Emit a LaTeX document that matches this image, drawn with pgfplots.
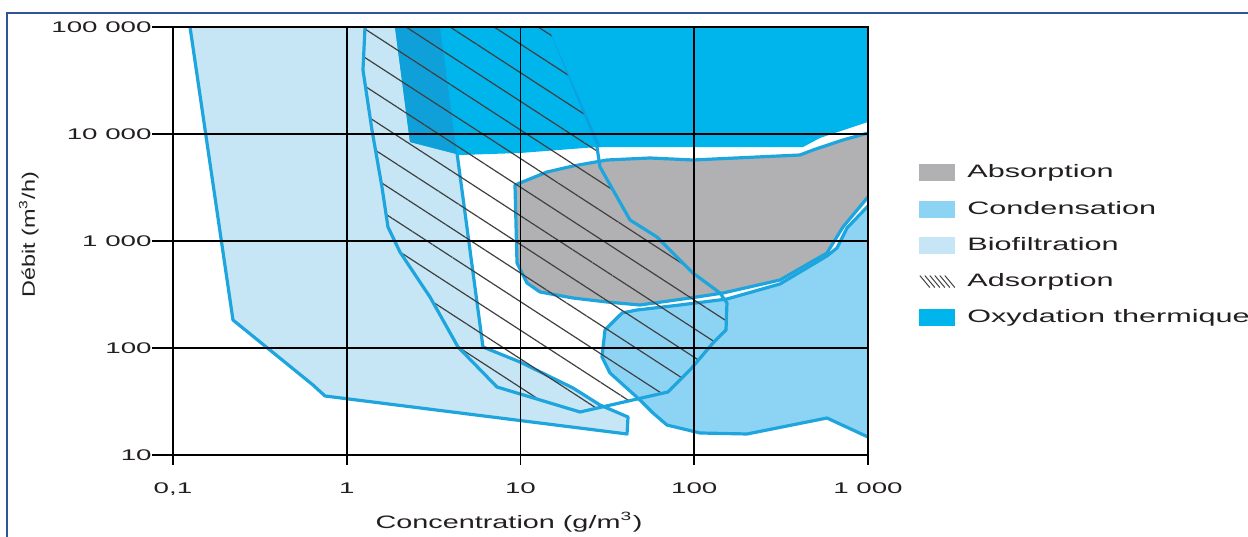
\documentclass[border=0pt]{standalone}
\usepackage{fontspec}
\setmainfont{Liberation Sans}
\usepackage{graphicx}
\usepackage{pgfplots}
\pgfplotsset{compat=1.18}
\usetikzlibrary{patterns.meta}
\definecolor{bio}{HTML}{C6E6F6}
\definecolor{cond}{HTML}{8DD4F4}
\definecolor{absg}{HTML}{B1B1B3}
\definecolor{oxy}{HTML}{00B4EC}
\definecolor{oxyd}{HTML}{0FA0DA}
\definecolor{edge}{HTML}{1EA5DE}
\definecolor{frm}{HTML}{2E5597}
\definecolor{txt}{HTML}{231F20}
\newcommand{\tx}[1]{\scalebox{1.8}[1]{#1}}
\newcommand{\lx}[1]{\scalebox{1.7}[1]{#1}}
\begin{document}
\begin{tikzpicture}
\path[use as bounding box] (0,0) rectangle (624pt,268pt);
\draw[frm, line width=1pt] (3.5pt,-5pt) -- (3.5pt,261.5pt) -- (630pt,261.5pt);
\begin{axis}[
  at={(86.5pt,40.5pt)}, anchor=south west,
  scale only axis, width=347.5pt, height=214pt,
  xmode=log, ymode=log,
  xmin=0.1, xmax=1000, ymin=10, ymax=100000,
  xtick={0.1,1,10,100,1000}, ytick={10,100,1000,10000,100000},
  xticklabels={{\tx{0,1}},{\tx{1}},{\tx{10}},{\tx{100}},{\tx{1~000}}},
  yticklabels={{\tx{10}},{\tx{100}},{\tx{1~000}},{\tx{10~000}},{\tx{100~000}}},
  xminorticks=false, yminorticks=false,
  xtick pos=bottom, ytick pos=left,
  tick align=outside,
  major tick length=10.5pt,
  xtick style={/pgfplots/major tick length=5pt},
  tick style={black, line width=0.8pt},
  grid=major,
  major grid style={black, line width=0.9pt},
  axis line style={black, line width=0.9pt},
  axis on top,
  tick label style={font=\fontsize{7.7}{9}\selectfont, text=txt},
  yticklabel style={inner xsep=0pt},
  xlabel={\scalebox{1.6}[1]{Concentration (g/m\textsuperscript{3})}},
  ylabel={\scalebox{1.3}[1]{Débit (m\textsuperscript{3}/h)}},
  label style={font=\fontsize{9}{11}\selectfont, text=txt},
  xlabel style={at={(axis description cs:0.4835,-0.1565)}, anchor=center},
  ylabel style={at={(axis description cs:-0.2075,0.514)}, anchor=center},
  legend style={at={(1.0647,0.6893)}, anchor=north west, draw=none, fill=none,
    font=\fontsize{9}{11}\selectfont, text=txt, row sep=9.8pt, column sep=6pt,
    nodes={inner sep=0pt}},
  legend cell align=left,
]
% legend
\addlegendimage{legend image code/.code={\fill[absg] (0pt,-4pt) rectangle (17.5pt,4pt);}}
\addlegendentry{\lx{Absorption}}
\addlegendimage{legend image code/.code={\fill[cond] (0pt,-4pt) rectangle (17.5pt,4pt);}}
\addlegendentry{\lx{Condensation}}
\addlegendimage{legend image code/.code={\fill[bio] (0pt,-4pt) rectangle (17.5pt,4pt);}}
\addlegendentry{\lx{Biofiltration}}
\addlegendimage{legend image code/.code={\foreach \i in {0,...,5} {\draw[black!75, line width=0.5pt] (\i*2.5pt,3pt) -- (\i*2.5pt+5pt,-3pt);}}}
\addlegendentry{\lx{Adsorption}}
\addlegendimage{legend image code/.code={\fill[oxy] (0pt,-4pt) rectangle (17.5pt,4pt);}}
\addlegendentry{\lx{Oxydation thermique}}

% Biofiltration
\addplot[forget plot, draw=none, fill=bio] coordinates {
(0.1253,100000) (0.2214,182.7) (0.6394,45.1) (0.7496,35.6) (41.03,15.72) (41.58,22.65)
(28.68,29.33) (20.06,42.3) (9.934,74.0) (6.083,102.2) (4.311,6644) (3.441,100000)} -- cycle;
\addplot[forget plot, edge, line width=1.6pt, line join=round] coordinates {
(0.1253,100000) (0.2214,182.7) (0.6394,45.1) (0.7496,35.6) (41.03,15.72) (41.58,22.65)
(28.68,29.33) (20.06,42.3) (9.934,74.0) (6.083,102.2) (4.311,6644) (3.441,100000)};

% Oxydation thermique
\addplot[forget plot, draw=none, fill=oxy] coordinates {
(1.895,100000) (2.312,8417) (4.486,6364) (9.934,6644) (27.56,7557) (422.6,7557)
(529.2,9176) (1000,12950) (1000,100000)} -- cycle;
\addplot[forget plot, draw=none, fill=oxyd] coordinates {
(1.895,100000) (2.312,8417) (4.311,6503) (3.441,100000)} -- cycle;
\addplot[forget plot, draw=none, fill=cyan!60!oxy] coordinates {
(14.40,100000) (27.56,7557) (29.0,7557)} -- cycle;

% Absorption
\addplot[forget plot, draw=none, fill=absg] coordinates {
(1000,2578) (717.8,1351) (580.6,772.6) (311.5,432.1) (146.4,326.6) (94.52,293.3)
(48.73,252.3) (31.47,269.1) (20.06,293.3) (12.95,333.8) (10.90,405.1) (9.548,622.9)
(9.297,3337) (14.21,4415) (20.06,5021) (31.47,5715) (55.64,5967) (98.35,5715)
(406.1,6364) (482.6,7087) (717.8,8788) (1000,10210)} -- cycle;
\addplot[forget plot, edge, line width=1.6pt, line join=round] coordinates {
(1000,2578) (717.8,1351) (580.6,772.6) (311.5,432.1) (146.4,326.6) (94.52,293.3)
(48.73,252.3) (31.47,269.1) (20.06,293.3) (12.95,333.8) (10.90,405.1) (9.548,622.9)
(9.297,3337) (14.21,4415) (20.06,5021) (31.47,5715) (55.64,5967) (98.35,5715)
(406.1,6364) (482.6,7087) (717.8,8788) (1000,10210)};

% Condensation
\addplot[forget plot, draw=none, fill=cond] coordinates {
(1000,14.73) (580.6,22.17) (201.2,15.72) (107.9,16.06) (69.68,19.07) (57.88,24.70)
(48.73,32.66) (32.74,58.4) (29.45,82.4) (30.64,147.3) (38.39,212.3) (46.83,226.5)
(82.79,252.3) (154.3,287) (311.5,396.4) (580.6,724.1) (663.2,860.3) (757.0,1323)
(1000,2123)} -- cycle;
\addplot[forget plot, edge, line width=1.6pt, line join=round] coordinates {
(1000,14.73) (580.6,22.17) (201.2,15.72) (107.9,16.06) (69.68,19.07) (57.88,24.70)
(48.73,32.66) (32.74,58.4) (29.45,82.4) (30.64,147.3) (38.39,212.3) (46.83,226.5)
(82.79,252.3) (154.3,287) (311.5,396.4) (580.6,724.1) (663.2,860.3) (757.0,1323)
(1000,2123)};

% Adsorption (hatched)
\addplot[forget plot, draw=none, pattern={Lines[angle=-33,distance=12pt,line width=0.6pt]}, pattern color=black!75] coordinates {
(1.274,100000) (1.240,39630) (1.397,10900) (1.595,3196) (1.727,1351) (2.025,789)
(3.014,299.7) (4.369,102.2) (7.323,43.2) (22.0,25.23) (70.6,38.8) (94.52,62.3)
(128.2,111.4) (152.3,147.3) (154.3,263.4) (140.7,326.6) (98.35,502.2) (61.03,1090)
(42.69,1572) (28.68,4917) (27.56,7557) (14.40,100000)} -- cycle;
\addplot[forget plot, edge, line width=1.6pt, line join=round] coordinates {
(27.56,7557) (28.68,4917) (42.69,1572) (61.03,1090) (98.35,502.2) (140.7,326.6)
(154.3,263.4) (152.3,147.3) (128.2,111.4) (94.52,62.3) (70.6,38.8) (22.0,25.23)
(7.323,43.2) (4.369,102.2) (3.014,299.7) (2.025,789) (1.727,1351) (1.595,3196)
(1.397,10900) (1.240,39630) (1.274,100000)};
\end{axis}
\end{tikzpicture}
\end{document}
